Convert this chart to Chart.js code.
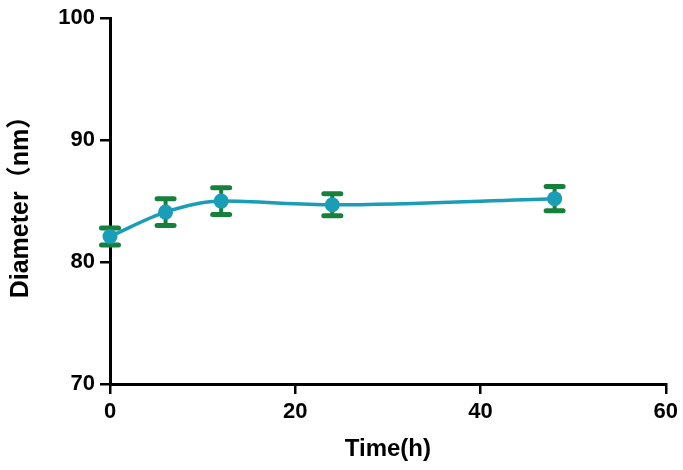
<!DOCTYPE html>
<html>
<head>
<meta charset="utf-8">
<script src="https://cdn.jsdelivr.net/npm/chart.js@4/dist/chart.umd.min.js"></script>
<style>
  html, body { margin: 0; padding: 0; background: #fff; }
  #wrap { width: 683px; height: 470px; }
</style>
</head>
<body>
<div id="wrap"><canvas id="c" width="683" height="470"></canvas></div>
<script>
// time points (h), mean diameter (nm) and error (nm)
const times = [0, 6, 12, 24, 48];
const diameters = [82.1, 84.1, 85.0, 84.7, 85.2];
const errors = [0.7, 1.1, 1.1, 0.9, 1.0];
const xTicks = [0, 20, 40, 60];
const yTicks = [70, 80, 90, 100];

const LINE = '#1a9db6';
const ERR = '#17803d';
const FONT = "'Liberation Sans', Arial, sans-serif";

// error bars drawn under the line/points
const errorBars = {
    id: 'errorBars',
    beforeDatasetsDraw(chart) {
        const ctx = chart.ctx;
        const xs = chart.scales.x, ys = chart.scales.y;
        ctx.save();
        ctx.strokeStyle = ERR;
        times.forEach((t, i) => {
            const px = xs.getPixelForValue(t);
            const top = ys.getPixelForValue(diameters[i] + errors[i]);
            const bot = ys.getPixelForValue(diameters[i] - errors[i]);
            ctx.lineWidth = 4;
            ctx.beginPath();
            ctx.moveTo(px, top); ctx.lineTo(px, bot);
            ctx.stroke();
            ctx.lineWidth = 5;
            ctx.lineCap = 'round';
            ctx.beginPath();
            ctx.moveTo(px - 8.5, top); ctx.lineTo(px + 8.5, top);
            ctx.moveTo(px - 8.5, bot); ctx.lineTo(px + 8.5, bot);
            ctx.stroke();
            ctx.lineCap = 'butt';
        });
        ctx.restore();
    }
};

new Chart(document.getElementById('c'), {
    type: 'line',
    data: {
        datasets: [{
            data: times.map((t, i) => ({ x: t, y: diameters[i] })),
            borderColor: LINE,
            backgroundColor: LINE,
            borderWidth: 3.5,
            pointRadius: 7.5,
            pointBorderWidth: 0,
            cubicInterpolationMode: 'monotone',
            clip: false
        }]
    },
    options: {
        responsive: false,
        animation: false,
        layout: { padding: { top: 3, right: 6, bottom: 0, left: 0 } },
        plugins: { legend: { display: false }, tooltip: { enabled: false } },
        scales: {
            x: {
                type: 'linear', min: 0, max: 60,
                afterBuildTicks: s => { s.ticks = xTicks.map(v => ({ value: v })); },
                grid: { drawOnChartArea: false, drawTicks: true, tickLength: 10, color: '#000', lineWidth: 2.5 },
                border: { color: '#000', width: 3 },
                ticks: { color: '#000', padding: 5, font: { family: FONT, size: 22, weight: 'bold' } },
                title: { display: true, text: 'Time(h)', color: '#000', padding: { top: 2, bottom: 6 },
                         font: { family: FONT, size: 24, weight: 'bold' } },
                afterFit: s => { s.height = 86; }
            },
            y: {
                type: 'linear', min: 70, max: 100,
                afterBuildTicks: s => { s.ticks = yTicks.map(v => ({ value: v })); },
                grid: { drawOnChartArea: false, drawTicks: true, tickLength: 10, color: '#000', lineWidth: 2.5 },
                border: { color: '#000', width: 3 },
                ticks: { color: '#000', padding: 5, font: { family: FONT, size: 22, weight: 'bold' } },
                title: { display: true, text: 'Diameter（nm）', color: '#000', padding: { top: 6, bottom: 0 },
                         font: { family: FONT + ", 'Noto Sans CJK SC'", size: 25, weight: 'bold' } },
                afterFit: s => { s.width = 110; }
            }
        }
    },
    plugins: [errorBars]
});
</script>
</body>
</html>
